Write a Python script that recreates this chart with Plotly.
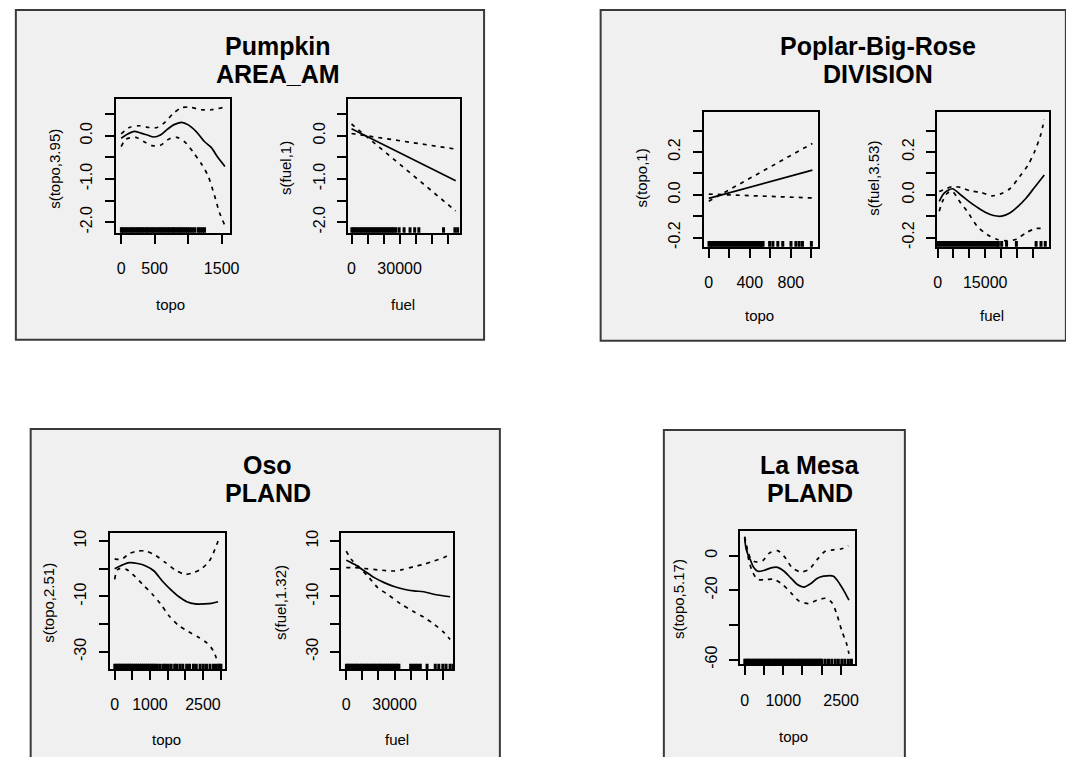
import plotly.graph_objects as go

# ---------------- DATA ----------------
# Panel 1: Pumpkin / AREA_AM
p1_topo_fit_x = [0, 98, 196, 293, 391, 489, 586, 684, 782, 904, 1002, 1124, 1246, 1344, 1442, 1549]
p1_topo_fit_y = [-0.06, 0.04, 0.10, 0.06, 0.015, -0.03, 0.015, 0.14, 0.25, 0.31, 0.25, 0.09, -0.14, -0.27, -0.50, -0.71]
p1_topo_up_x = [0, 122, 269, 415, 538, 660, 782, 904, 1051, 1197, 1344, 1549]
p1_topo_up_y = [0.04, 0.19, 0.23, 0.19, 0.19, 0.32, 0.52, 0.65, 0.65, 0.60, 0.60, 0.66]
p1_topo_lo_x = [0, 73, 220, 342, 464, 586, 709, 831, 953, 1075, 1197, 1295, 1393, 1466, 1549]
p1_topo_lo_y = [-0.25, -0.08, -0.04, -0.14, -0.23, -0.22, -0.08, -0.04, -0.15, -0.38, -0.65, -0.92, -1.38, -1.77, -2.08]
p1_topo_rug = [3, 25, 58, 84, 117, 146, 172, 205, 238, 262, 295, 321, 354, 386, 410, 447, 472, 503, 538, 566, 597, 624, 655, 688, 716, 748, 779, 804, 836, 868, 897, 925, 958, 990, 1021, 1058, 1096, 1148, 1177, 1212, 1244]

p1_fuel_fit_x = [0, 65000]
p1_fuel_fit_y = [0.16, -1.04]
p1_fuel_up_x = [0, 65000]
p1_fuel_up_y = [0.05, -0.31]
p1_fuel_lo_x = [0, 65000]
p1_fuel_lo_y = [0.27, -1.74]
p1_fuel_rug = [200, 1300, 2600, 3900, 5200, 6400, 7700, 8900, 10100, 11400, 12700, 13900, 15100, 16400, 17600, 18900, 20100, 21400, 22600, 23900, 25100, 26300, 27600, 29700, 32800, 36500, 39400, 42000, 57400, 64500, 66200]

# Panel 2: Poplar-Big-Rose / DIVISION
p2_topo_fit_x = [0, 1010]
p2_topo_fit_y = [-0.017, 0.115]
p2_topo_up_x = [0, 1010]
p2_topo_up_y = [-0.03, 0.24]
p2_topo_lo_x = [0, 1010]
p2_topo_lo_y = [0.003, -0.015]
p2_topo_rug = [2, 18, 35, 52, 70, 88, 104, 121, 139, 155, 173, 190, 207, 224, 242, 259, 276, 293, 311, 328, 345, 362, 380, 397, 414, 431, 449, 466, 483, 500, 513, 529, 593, 625, 673, 721, 801, 849, 881, 913, 1000]

p2_fuel_fit_x = [520, 2070, 4660, 7250, 9830, 12420, 15010, 17600, 20190, 22770, 25360, 27950, 30540, 33640]
p2_fuel_fit_y = [-0.031, 0.008, 0.028, 0.0, -0.031, -0.058, -0.082, -0.097, -0.100, -0.085, -0.054, -0.015, 0.034, 0.092]
p2_fuel_up_x = [520, 2590, 4660, 7250, 10350, 13460, 17080, 19670, 22770, 25880, 28470, 30540, 32610, 33640]
p2_fuel_up_y = [0.015, 0.028, 0.038, 0.034, 0.018, 0.012, -0.005, 0.003, 0.028, 0.085, 0.138, 0.200, 0.285, 0.354]
p2_fuel_lo_x = [520, 1550, 3100, 4660, 7250, 9320, 12420, 15530, 18630, 21740, 24840, 27950, 31060, 33640]
p2_fuel_lo_y = [-0.077, -0.031, 0.008, 0.015, -0.038, -0.077, -0.146, -0.185, -0.208, -0.215, -0.208, -0.177, -0.158, -0.158]
p2_fuel_rug = [100, 700, 1400, 2100, 2800, 3500, 4200, 4900, 5600, 6300, 7000, 7700, 8400, 9100, 9800, 10500, 11200, 11900, 12600, 13300, 14000, 14700, 15400, 16100, 16800, 17500, 18200, 18900, 19150, 20190, 21740, 24840, 31060, 32600, 33950]

# Panel 3: Oso / PLAND
p3_topo_fit_x = [0, 186, 418, 650, 883, 1115, 1348, 1580, 1812, 2045, 2277, 2556, 2742, 2928]
p3_topo_fit_y = [0.0, 1.2, 2.2, 1.9, 1.0, -0.8, -4.4, -7.4, -10.0, -11.9, -12.7, -12.7, -12.5, -11.9]
p3_topo_up_x = [0, 186, 418, 650, 883, 1162, 1440, 1719, 2000, 2230, 2463, 2695, 2928]
p3_topo_up_y = [3.6, 3.4, 5.5, 6.4, 6.4, 4.8, 2.2, -0.45, -2.0, -1.4, 0.03, 3.1, 10.0]
p3_topo_lo_x = [0, 93, 325, 511, 790, 1069, 1301, 1533, 1812, 2091, 2370, 2602, 2788, 2928]
p3_topo_lo_y = [-3.8, -0.2, -0.2, -2.0, -5.6, -9.2, -12.7, -16.9, -20.5, -22.7, -24.7, -26.7, -29.5, -34.2]
p3_topo_rug = [5, 60, 110, 165, 215, 270, 325, 380, 430, 480, 540, 590, 650, 700, 760, 810, 870, 925, 980, 1040, 1090, 1150, 1210, 1290, 1380, 1440, 1520, 1600, 1700, 1760, 1850, 1930, 2040, 2120, 2230, 2310, 2420, 2510, 2600, 2700, 2800, 2880, 2960, 3010]

p3_fuel_fit_x = [0, 5120, 11270, 17420, 23570, 29700, 35860, 42000, 48160, 54300, 64550]
p3_fuel_fit_y = [3.1, 1.6, -0.8, -3.2, -5.0, -6.4, -7.4, -8.0, -8.3, -9.2, -10.1]
p3_fuel_up_x = [0, 5120, 11270, 20000, 29700, 34800, 42000, 48160, 54300, 60450, 64960]
p3_fuel_up_y = [0.4, 0.4, 0.1, -0.4, -0.8, -0.3, 0.8, 1.6, 2.8, 4.0, 5.5]
p3_fuel_lo_x = [0, 3070, 8200, 13320, 19470, 25610, 33810, 42000, 48160, 54300, 60450, 64550]
p3_fuel_lo_y = [6.4, 3.4, 0.4, -2.6, -6.8, -9.2, -12.7, -15.5, -17.5, -19.9, -22.9, -25.5]
p3_fuel_rug = [100, 1200, 2400, 3500, 4700, 5900, 7000, 8200, 9400, 10500, 11700, 12900, 14000, 15200, 16400, 17500, 18700, 19900, 21000, 22200, 23400, 24500, 25700, 26900, 28000, 29200, 30400, 31500, 32700, 40000, 41500, 43000, 44500, 46000, 50200, 55300, 57500, 60000, 62000, 64500, 66400]

# Panel 4: La Mesa / PLAND
p4_topo_fit_x = [0, 26, 85, 145, 230, 341, 512, 683, 853, 1024, 1195, 1365, 1536, 1707, 1877, 2048, 2304, 2474, 2602, 2705]
p4_topo_fit_y = [10.5, 5.3, 0.6, -2.3, -6.7, -9.0, -8.4, -7.0, -6.7, -9.0, -12.8, -16.6, -18.1, -16.2, -13.1, -11.8, -11.8, -16.6, -21.3, -25.7]
p4_topo_up_x = [0, 85, 170, 300, 470, 640, 853, 1024, 1237, 1450, 1664, 1877, 2090, 2304, 2517, 2688]
p4_topo_up_y = [11.0, 2.5, -2.3, -3.6, -2.9, 1.5, 2.9, -0.4, -7.0, -9.3, -8.0, -2.3, 2.5, 3.4, 4.0, 5.7]
p4_topo_lo_x = [0, 85, 196, 341, 555, 768, 981, 1195, 1408, 1664, 1877, 2090, 2261, 2389, 2517, 2645, 2705]
p4_topo_lo_y = [10.0, -0.4, -9.0, -13.7, -13.7, -13.7, -16.6, -21.3, -26.1, -27.6, -25.7, -24.6, -27.0, -33.7, -43.2, -50.9, -56.6]
p4_topo_rug = [3, 40, 85, 120, 165, 210, 250, 295, 340, 385, 430, 470, 515, 560, 600, 645, 690, 735, 780, 820, 865, 910, 955, 1000, 1040, 1085, 1130, 1175, 1220, 1260, 1305, 1350, 1395, 1440, 1480, 1525, 1570, 1615, 1660, 1700, 1745, 1790, 1835, 1880, 1925, 1965, 2005, 2090, 2175, 2260, 2350, 2430, 2520, 2600, 2690, 2770]

# Titles / labels
titles = [("Pumpkin", "AREA_AM"), ("Poplar-Big-Rose", "DIVISION"), ("Oso", "PLAND"), ("La Mesa", "PLAND")]
ylabels = ["s(topo,3.95)", "s(fuel,1)", "s(topo,1)", "s(fuel,3.53)", "s(topo,2.51)", "s(fuel,1.32)", "s(topo,5.17)"]
xlabels = ["topo", "fuel", "topo", "fuel", "topo", "fuel", "topo"]

x_tickvals = [
    [0, 500, 1000, 1500],
    [0, 10000, 20000, 30000, 40000, 50000, 60000],
    [0, 200, 400, 600, 800, 1000],
    [0, 5000, 10000, 15000, 20000, 25000, 30000],
    [0, 500, 1000, 1500, 2000, 2500, 3000],
    [0, 10000, 20000, 30000, 40000, 50000, 60000],
    [0, 500, 1000, 1500, 2000, 2500],
]
x_ticktext = [
    ["0", "500", "", "1500"],
    ["0", "", "", "30000", "", "", ""],
    ["0", "", "400", "", "800", ""],
    ["0", "", "", "15000", "", "", ""],
    ["0", "", "1000", "", "", "2500", ""],
    ["0", "", "", "30000", "", "", ""],
    ["0", "", "1000", "", "", "2500"],
]
y_tickvals = [
    [0.5, 0.0, -0.5, -1.0, -1.5, -2.0],
    [0.5, 0.0, -0.5, -1.0, -1.5, -2.0],
    [0.3, 0.2, 0.1, 0.0, -0.1, -0.2],
    [0.3, 0.2, 0.1, 0.0, -0.1, -0.2],
    [10, 0, -10, -20, -30],
    [10, 0, -10, -20, -30],
    [0, -20, -40, -60],
]
y_ticktext = [
    ["", "0.0", "", "-1.0", "", "-2.0"],
    ["", "0.0", "", "-1.0", "", "-2.0"],
    ["", "0.2", "", "0.0", "", "-0.2"],
    ["", "0.2", "", "0.0", "", "-0.2"],
    ["10", "", "-10", "", "-30"],
    ["10", "", "-10", "", "-30"],
    ["0", "-20", "", "-60"],
]

series = [
    (p1_topo_fit_x, p1_topo_fit_y, p1_topo_up_x, p1_topo_up_y, p1_topo_lo_x, p1_topo_lo_y, p1_topo_rug),
    (p1_fuel_fit_x, p1_fuel_fit_y, p1_fuel_up_x, p1_fuel_up_y, p1_fuel_lo_x, p1_fuel_lo_y, p1_fuel_rug),
    (p2_topo_fit_x, p2_topo_fit_y, p2_topo_up_x, p2_topo_up_y, p2_topo_lo_x, p2_topo_lo_y, p2_topo_rug),
    (p2_fuel_fit_x, p2_fuel_fit_y, p2_fuel_up_x, p2_fuel_up_y, p2_fuel_lo_x, p2_fuel_lo_y, p2_fuel_rug),
    (p3_topo_fit_x, p3_topo_fit_y, p3_topo_up_x, p3_topo_up_y, p3_topo_lo_x, p3_topo_lo_y, p3_topo_rug),
    (p3_fuel_fit_x, p3_fuel_fit_y, p3_fuel_up_x, p3_fuel_up_y, p3_fuel_lo_x, p3_fuel_lo_y, p3_fuel_rug),
    (p4_topo_fit_x, p4_topo_fit_y, p4_topo_up_x, p4_topo_up_y, p4_topo_lo_x, p4_topo_lo_y, p4_topo_rug),
]

# ---------------- LAYOUT (pixel geometry) ----------------
W, H = 1066, 757
FONT = "Liberation Sans, Arial, Helvetica, sans-serif"
BG = "#f0f0f0"

def fx(p):
    return p / W

def fy(p):
    return 1 - p / H

# plot-area pixel boxes: left, right, top, bottom
boxes = [
    (113, 229, 97, 232),
    (348.5, 461.5, 97, 232),
    (708.5, 824, 110, 246),
    (944.5, 1057.5, 110, 246),
    (107, 224, 535, 672.5),
    (341.5, 455, 535, 672.5),
    (745.5, 862, 532.5, 667.5),
]
xranges = [(-83, 1628), (-2050, 67600), (-48, 1064), (-200, 35000), (-140, 3132), (-3070, 66600), (-111, 2875)]
yranges = [(-2.246, 0.846), (-2.246, 0.846), (-0.243, 0.387), (-0.243, 0.387), (-36.3, 12.9), (-36.3, 12.9), (-62.7, 14.5)]

# label positions (pixels)
ylab_pos = [(51, 167), (285, 167), (645, 177), (880, 177), (45, 605), (280, 605), (683, 602)]
xlab_pos = [(169, 304), (404, 304), (765, 315), (1000, 315), (164, 743), (398, 743), (799, 740)]
title_pos = [(277, 43, 72), (885, 43, 72), (267, 466, 495), (816, 466, 495)]
frames = [(12, 486, 7, 340), (604, 1075, 7, 341), (27, 502, 430, 770), (668, 912, 431, 770)]

fig = go.Figure()
layout = dict(
    width=W, height=H, margin=dict(l=0, r=0, t=0, b=0),
    paper_bgcolor="white", plot_bgcolor=BG, showlegend=False,
    font=dict(family=FONT, color="black"),
)

for i, (fxv, fyv, uxv, uyv, lxv, lyv, rug) in enumerate(series):
    n = "" if i == 0 else str(i + 1)
    xa, ya = "x" + n, "y" + n
    smooth = "spline" if len(fxv) > 2 else "linear"
    fig.add_trace(go.Scatter(x=fxv, y=fyv, xaxis=xa, yaxis=ya, mode="lines",
                             line=dict(color="black", width=1.7, shape=smooth, smoothing=0.8)))
    fig.add_trace(go.Scatter(x=uxv, y=uyv, xaxis=xa, yaxis=ya, mode="lines",
                             line=dict(color="black", width=1.7, dash="4px,5px",
                                       shape="spline" if len(uxv) > 2 else "linear", smoothing=0.8)))
    fig.add_trace(go.Scatter(x=lxv, y=lyv, xaxis=xa, yaxis=ya, mode="lines",
                             line=dict(color="black", width=1.7, dash="4px,5px",
                                       shape="spline" if len(lxv) > 2 else "linear", smoothing=0.8)))
    fig.add_trace(go.Scatter(x=rug, y=[yranges[i][0]] * len(rug), xaxis=xa, yaxis=ya, mode="markers",
                             cliponaxis=True,
                             marker=dict(symbol="line-ns", size=8, line=dict(color="black", width=3))))

    l, r, t, b = boxes[i]
    common = dict(showline=True, mirror=True, linecolor="black", linewidth=2,
                  ticks="outside", ticklen=9, tickwidth=1.8, tickcolor="black",
                  showgrid=False, zeroline=False, tickmode="array",
                  tickfont=dict(family=FONT, size=16, color="black"))
    layout["xaxis" + n] = dict(common, domain=[fx(l), fx(r)], range=list(xranges[i]), anchor=ya,
                               tickvals=x_tickvals[i], ticktext=x_ticktext[i], ticklabelstandoff=11)
    layout["yaxis" + n] = dict(common, domain=[fy(b), fy(t)], range=list(yranges[i]), anchor=xa,
                               tickvals=y_tickvals[i], ticktext=y_ticktext[i], tickangle=-90,
                               ticklabelstandoff=6)

shapes = []
for (l, r, t, b) in frames:
    shapes.append(dict(type="rect", xref="paper", yref="paper", x0=fx(l), x1=fx(r), y0=fy(b), y1=fy(t),
                       fillcolor=BG, line=dict(color="#3a3a3a", width=2), layer="below"))
layout["shapes"] = shapes

ann = []
for i, (px, py) in enumerate(ylab_pos):
    ann.append(dict(text=ylabels[i], x=fx(px), y=fy(py), xref="paper", yref="paper", showarrow=False,
                    textangle=-90, xanchor="center", yanchor="middle", font=dict(size=15, family=FONT)))
for i, (px, py) in enumerate(xlab_pos):
    ann.append(dict(text=xlabels[i], x=fx(px), y=fy(py), xref="paper", yref="paper", showarrow=False,
                    xanchor="center", yanchor="middle", font=dict(size=15, family=FONT)))
for (t1, t2), (px, py1, py2) in zip(titles, title_pos):
    ann.append(dict(text="<b>%s</b>" % t1, x=fx(px), y=fy(py1), xref="paper", yref="paper", showarrow=False,
                    xanchor="center", yanchor="middle", font=dict(size=25, family=FONT)))
    ann.append(dict(text="<b>%s</b>" % t2, x=fx(px), y=fy(py2), xref="paper", yref="paper", showarrow=False,
                    xanchor="center", yanchor="middle", font=dict(size=25, family=FONT)))
layout["annotations"] = ann

fig.update_layout(**layout)
fig.write_html("out.html")
